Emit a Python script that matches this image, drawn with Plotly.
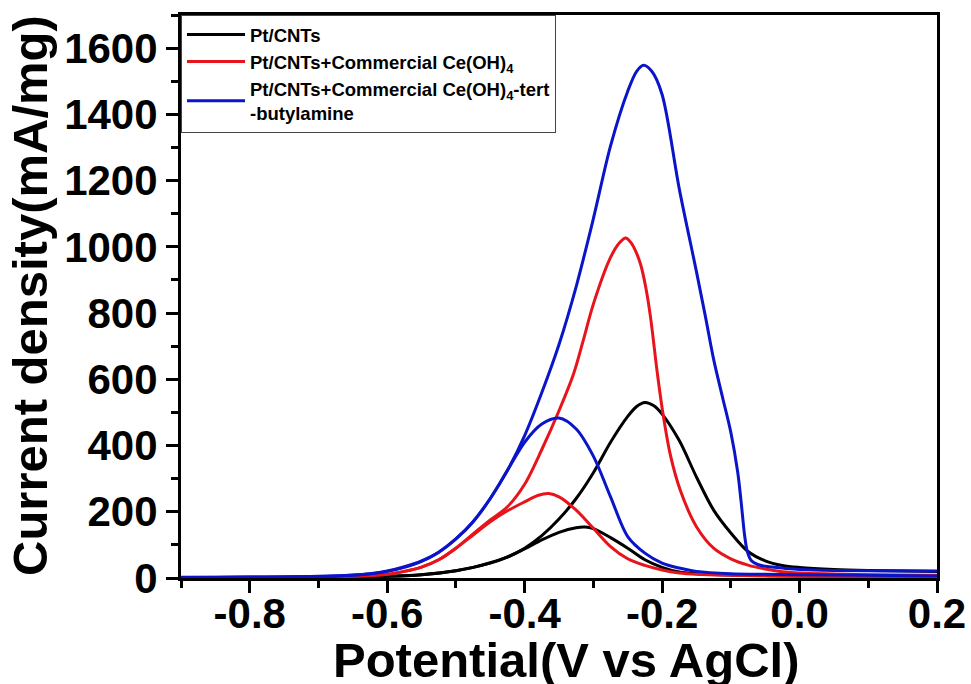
import plotly.graph_objects as go

# ---------------- data ----------------
# Pt/CNTs  (forward scan = large peak, backward scan = small peak)
pt_fwd_x = [-0.9, -0.8, -0.7, -0.65, -0.6, -0.55, -0.5, -0.475, -0.45, -0.425, -0.4, -0.375, -0.35,
            -0.325, -0.3, -0.275, -0.25, -0.237, -0.225, -0.212, -0.2, -0.175, -0.15, -0.125, -0.1,
            -0.075, -0.05, -0.025, 0.0, 0.05, 0.1, 0.2]
pt_fwd_y = [1, 1, 2, 3, 5, 10, 22, 32, 46, 64, 90, 128, 178,
            240, 318, 410, 488, 518, 530, 520, 495, 415, 305, 205, 136,
            80, 52, 38, 32, 26, 23, 20]
pt_bwd_x = [0.2, 0.1, 0.0, -0.1, -0.15, -0.175, -0.2, -0.225, -0.25, -0.275, -0.3, -0.312, -0.325,
            -0.35, -0.375, -0.4, -0.425, -0.45, -0.5, -0.55, -0.6, -0.7, -0.8, -0.9]
pt_bwd_y = [4, 5, 6, 9, 13, 18, 32, 55, 90, 122, 149, 154, 152,
            138, 115, 88, 63, 45, 22, 10, 5, 2, 1, 1]

# Pt/CNTs + Commercial Ce(OH)4
ce_fwd_x = [-0.9, -0.8, -0.7, -0.65, -0.6, -0.575, -0.55, -0.525, -0.5, -0.475, -0.45, -0.425, -0.4,
            -0.375, -0.35, -0.329, -0.315, -0.3, -0.275, -0.262, -0.253, -0.245, -0.238, -0.231, -0.224,
            -0.217, -0.207, -0.199, -0.188, -0.173, -0.15, -0.125, -0.1, -0.075, -0.05, -0.025,
            0.0, 0.1, 0.2]
ce_fwd_y = [1, 2, 3, 5, 11, 20, 33, 55, 90, 133, 175, 215, 283,
            388, 505, 615, 715, 827, 968, 1012, 1027, 1012, 985, 945, 880,
            790, 620, 500, 372, 262, 155, 90, 58, 39, 27, 19,
            15, 10, 8]
ce_bwd_x = [0.2, 0.1, 0.0, -0.1, -0.15, -0.175, -0.2, -0.225, -0.25, -0.275, -0.3, -0.325, -0.35,
            -0.365, -0.38, -0.4, -0.425, -0.45, -0.475, -0.5, -0.525, -0.55, -0.575, -0.6, -0.65,
            -0.7, -0.8, -0.9]
ce_bwd_y = [3, 4, 5, 8, 11, 15, 24, 38, 58, 95, 150, 205, 245,
            255, 250, 230, 203, 170, 130, 90, 55, 33, 20, 11, 5,
            3, 2, 1]

# Pt/CNTs + Commercial Ce(OH)4-tert-butylamine
tb_fwd_x = [-0.9, -0.8, -0.7, -0.65, -0.625, -0.6, -0.575, -0.55, -0.525, -0.5, -0.475, -0.45, -0.425,
            -0.4, -0.375, -0.35, -0.325, -0.3, -0.275, -0.25, -0.237, -0.227, -0.215, -0.2, -0.175,
            -0.15, -0.137, -0.125, -0.112, -0.1, -0.09, -0.085, -0.08, -0.076, -0.07, -0.06, -0.04,
            -0.02, 0.0, 0.05, 0.1, 0.2]
tb_fwd_y = [2, 3, 5, 9, 13, 21, 34, 52, 78, 118, 170, 240, 325,
            430, 560, 705, 880, 1085, 1305, 1470, 1530, 1548, 1530, 1460, 1175,
            925, 790, 660, 545, 440, 320, 230, 130, 80, 52, 40, 33,
            29, 26, 23, 22, 21]
tb_bwd_x = [0.2, 0.1, 0.0, -0.05, -0.1, -0.15, -0.175, -0.2, -0.225, -0.25, -0.275, -0.3, -0.325,
            -0.35, -0.375, -0.4, -0.425, -0.45, -0.475, -0.5, -0.525, -0.55, -0.575, -0.6, -0.65,
            -0.7, -0.8, -0.9]
tb_bwd_y = [6, 8, 10, 11, 13, 20, 30, 45, 75, 125, 245, 368, 450,
            483, 465, 410, 325, 240, 170, 118, 78, 50, 32, 20, 8,
            4, 2, 1]

series_names = ["Pt/CNTs",
                "Pt/CNTs+Commercial Ce(OH)<sub>4</sub>",
                "Pt/CNTs+Commercial Ce(OH)<sub>4</sub>-tert<br>-butylamine"]
series_colors = ["#000000", "#e8141b", "#0a14c8"]

x_ticks = [-0.8, -0.6, -0.4, -0.2, 0.0, 0.2]
x_ticktext = ["-0.8", "-0.6", "-0.4", "-0.2", "0.0", "0.2"]
y_ticks = [0, 200, 400, 600, 800, 1000, 1200, 1400, 1600]
x_title = "Potential(V vs AgCl)"
y_title = "Current density(mA/mg)"

# ---------------- figure ----------------
fig = go.Figure()
loops = [(pt_fwd_x, pt_fwd_y, pt_bwd_x, pt_bwd_y),
         (ce_fwd_x, ce_fwd_y, ce_bwd_x, ce_bwd_y),
         (tb_fwd_x, tb_fwd_y, tb_bwd_x, tb_bwd_y)]
for i, (fx, fy, bx, by) in enumerate(loops):
    line = dict(color=series_colors[i], width=3, shape="spline", smoothing=0.9)
    fig.add_trace(go.Scatter(x=fx, y=fy, mode="lines", name=series_names[i],
                             legendgroup=f"g{i}", line=line))
    fig.add_trace(go.Scatter(x=bx, y=by, mode="lines", name=series_names[i],
                             legendgroup=f"g{i}", showlegend=False, line=line))

font_family = "Arial, Liberation Sans, sans-serif"
fig.update_layout(
    width=971, height=684,
    margin=dict(l=181, r=34, t=15, b=106, pad=0),
    paper_bgcolor="white", plot_bgcolor="white",
    font=dict(family=font_family, color="black"),
    showlegend=True,
    legend=dict(x=0, y=1, xanchor="left", yanchor="top",
                bgcolor="white", bordercolor="#444", borderwidth=1,
                font=dict(family=font_family, size=18.5, color="black", weight="bold"),
                itemwidth=58, tracegroupgap=0),
    annotations=[
        dict(text=x_title, xref="paper", yref="paper", x=0.509, y=-0.145,
             xanchor="center", yanchor="middle", showarrow=False,
             font=dict(family=font_family, size=49, color="black", weight="bold")),
        dict(text=y_title, xref="paper", yref="paper", x=-0.1997, y=0.501,
             xanchor="center", yanchor="middle", showarrow=False, textangle=-90,
             font=dict(family=font_family, size=49, color="black", weight="bold")),
    ],
)
fig.update_xaxes(
    range=[-0.9, 0.2], tickmode="array", tickvals=x_ticks, ticktext=x_ticktext,
    showline=True, linecolor="black", linewidth=3, mirror=True,
    ticks="outside", ticklen=12, tickwidth=3, tickcolor="black",
    minor=dict(tickmode="linear", tick0=0, dtick=0.1, ticks="outside", ticklen=7,
               tickwidth=3, tickcolor="black"),
    showgrid=False, zeroline=False, layer="below traces", automargin=False,
    ticklabelstandoff=-15,
    tickfont=dict(family=font_family, size=42, color="black", weight="bold"),
)
fig.update_yaxes(
    range=[0, 1700], tickmode="array", tickvals=y_ticks,
    showline=True, linecolor="black", linewidth=3, mirror=True,
    ticks="outside", ticklen=12, tickwidth=3, tickcolor="black",
    minor=dict(tickmode="linear", tick0=0, dtick=100, ticks="outside", ticklen=7,
               tickwidth=3, tickcolor="black"),
    showgrid=False, zeroline=False, layer="below traces", automargin=False,
    tickfont=dict(family=font_family, size=42, color="black", weight="bold"),
)

fig.write_html("out.html")
